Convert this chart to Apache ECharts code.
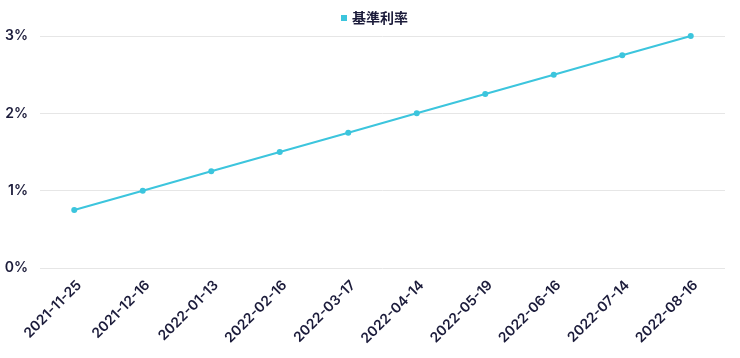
<!DOCTYPE html>
<html><head><meta charset="utf-8">
<script src="https://cdn.jsdelivr.net/npm/echarts@6/dist/echarts.min.js"></script>
<style>html,body{margin:0;padding:0;background:#fff}#c{width:740px;height:358px}</style>
</head><body><div id="c"></div>
<script>
const categories = ['2021-11-25','2021-12-16','2022-01-13','2022-02-16','2022-03-17','2022-04-14','2022-05-19','2022-06-16','2022-07-14','2022-08-16'];
const rates = [0.75,1,1.25,1.5,1.75,2,2.25,2.5,2.75,3];
const seriesName = '基準利率';
const chart = echarts.init(document.getElementById('c'));
chart.setOption({
  animation:false,
  textStyle:{fontFamily:'Inter, "Noto Sans CJK JP", sans-serif'},
  legend:{top:6,left:336,icon:'rect',itemWidth:6,itemHeight:6,itemGap:7,
    data:[seriesName],
    textStyle:{color:'#1b1b3a',fontSize:14,fontWeight:'bold',fontFamily:'"Noto Sans CJK JP", sans-serif'}},
  grid:{left:40,right:15,top:36,bottom:90,containLabel:false},
  xAxis:{type:'category',data:categories,boundaryGap:true,
    axisLine:{show:false},axisTick:{show:false},
    axisLabel:{rotate:45,color:'#1b1b3a',fontSize:14,fontWeight:600,margin:10,interval:0,verticalAlign:'top'}},
  yAxis:{type:'value',min:0,max:3,interval:1,
    axisLabel:{formatter:'{value}%',color:'#1b1b3a',fontSize:14,fontWeight:600,margin:12},
    splitLine:{lineStyle:{color:'#e6e6e6',width:1}}},
  series:[{name:seriesName,type:'line',data:rates,color:'#3cc5dd',
    symbol:'circle',symbolSize:6,lineStyle:{width:2,color:'#3cc5dd'},itemStyle:{color:'#3cc5dd'}}]
});
</script></body></html>
